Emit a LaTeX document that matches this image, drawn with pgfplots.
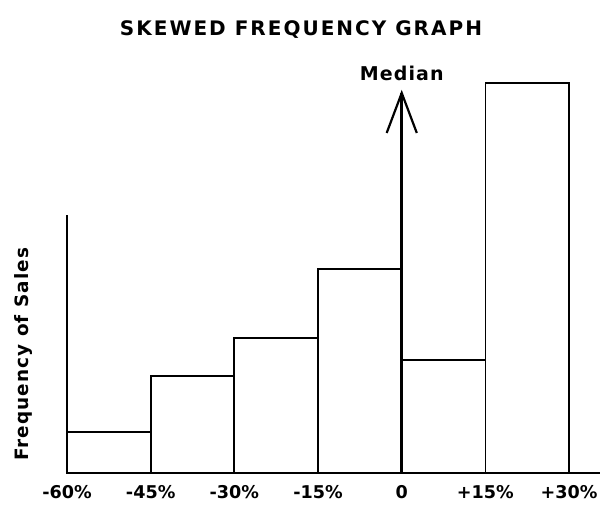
\documentclass[border=0pt]{standalone}
\usepackage{pgfplots}
\pgfplotsset{compat=1.18}
\usepackage{fontspec}
\setmainfont{DejaVu Sans}
\newfontfamily\lsp[LetterSpace=10]{DejaVu Sans}
\newfontfamily\lspb[LetterSpace=6]{DejaVu Sans}
\begin{document}
\begin{tikzpicture}[x=0.5pt,y=0.5pt]
\begin{axis}[
  scale only axis, width=266.5pt, height=129pt,
  xmin=-60, xmax=35.54, ymin=0, ymax=258,
  clip=false,
  axis x line=bottom, axis y line=left,
  axis line style={-, line width=0.9pt},
  major tick length=0pt,
  xtick={-60,-45,-30,-15,0,15,30},
  xticklabels={-60\%,-45\%,-30\%,-15\%,0,+15\%,+30\%},
  xticklabel style={font=\fontsize{8.8}{10}\selectfont\bfseries, yshift=-2.5pt},
  ytick=\empty,
  every axis y label/.style={at={(axis description cs:-0.082,0.46)}, rotate=90, anchor=center, font=\fontsize{9.2}{10}\selectfont\bfseries\lspb},
  ylabel={Frequency of Sales},
]
\addplot[ybar interval, fill=none, draw=black, line width=0.9pt]
  coordinates {(-60,41) (-45,97) (-30,135) (-15,204) (0,113) (15,390) (30,390)};
\draw[line width=1.6pt] (axis cs:0,0) -- (axis cs:0,380);
\draw[line width=1.1pt] (axis cs:-2.7,340) -- (axis cs:0,380) -- (axis cs:2.7,340);
\node[font=\fontsize{9.5}{10}\selectfont\bfseries\lspb] at (axis cs:0,400) {Median};
\coordinate (O) at (rel axis cs:0,0);
\end{axis}
\node[font=\fontsize{10}{12}\selectfont\bfseries\lsp] at ([shift={(234,443)}]O) {SKEWED FREQUENCY GRAPH};
\pgfresetboundingbox
\path[use as bounding box] ([shift={(-67,-33)}]O) rectangle ([shift={(538,473)}]O);
\end{tikzpicture}
\end{document}
